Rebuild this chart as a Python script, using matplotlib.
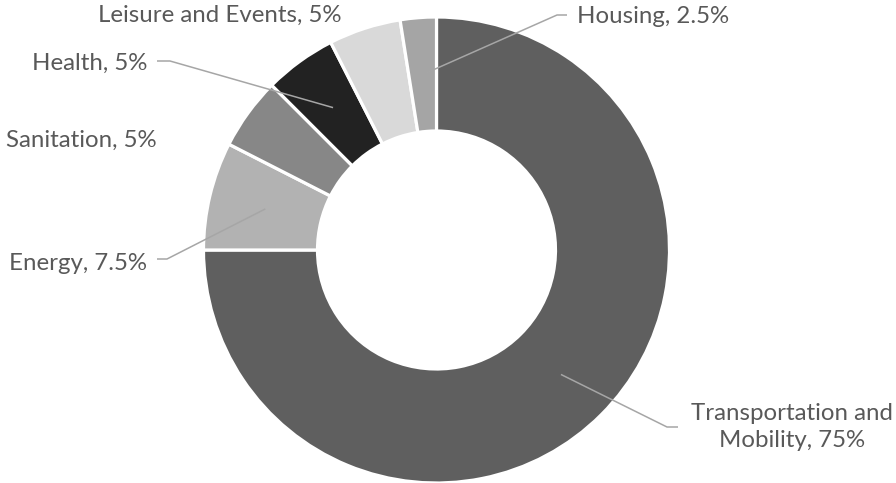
import numpy as np
import matplotlib
matplotlib.use("Agg")
import matplotlib.pyplot as plt

categories = ["Transportation and Mobility", "Energy", "Sanitation", "Health",
              "Leisure and Events", "Housing"]
values = [75, 7.5, 5, 5, 5, 2.5]
pct_labels = ["75%", "7.5%", "5%", "5%", "5%", "2.5%"]
colors = ["#5f5f5f", "#b2b2b2", "#878787", "#222222", "#d9d9d9", "#a5a5a5"]

W, H = 896, 483
fig = plt.figure(figsize=(W / 100, H / 100), dpi=100)
ax = fig.add_axes([0, 0, 1, 1])

cx, cy_img, R, ring = 436.5, 250, 233, 114
cy = H - cy_img

wedges, _ = ax.pie(values, colors=colors, startangle=90, counterclock=False,
                   radius=R, center=(cx, cy),
                   wedgeprops=dict(width=ring, edgecolor="white", linewidth=2.3))
ax.set_xlim(0, W)
ax.set_ylim(0, H)
ax.set_aspect("equal")
ax.axis("off")

def Y(y):
    return H - y

text_color = "#595959"
line_color = "#a6a6a6"
font = ["Lato", "DejaVu Sans"]

# fit font size so the Leisure label spans ~243 px
probe = ax.text(0, 0, "Leisure and Events, 5%", fontsize=14, family=font)
fig.canvas.draw()
w = probe.get_window_extent().width
probe.remove()
fs = 14 * 243 / w

# label layout: (x, y_baseline, ha, elbow points in image coords)
layout = {
    "Transportation and Mobility": (792, 427, "center", [(667, 427), (678, 427)]),
    "Energy": (147, 270, "right", [(167, 259), (157, 259)]),
    "Sanitation": (157, 147, "right", None),
    "Health": (147, 70, "right", [(170, 61), (157, 61)]),
    "Leisure and Events": (220, 22, "center", None),
    "Housing": (577, 23, "left", [(557, 15), (567, 15)]),
}

for wdg, cat, pct in zip(wedges, categories, pct_labels):
    x, y, ha, elbow = layout[cat]
    mid = np.deg2rad((wdg.theta1 + wdg.theta2) / 2)
    ra = R - ring / 2
    ax_, ay_ = cx + ra * np.cos(mid), cy + ra * np.sin(mid)
    if cat == "Transportation and Mobility":
        ax.text(x, Y(y), "Transportation and\nMobility, " + pct, ha="center",
                va="center", fontsize=fs, color=text_color, family=font,
                linespacing=1.38, multialignment="center")
    else:
        ax.text(x, Y(y), f"{cat}, {pct}", ha=ha, va="baseline", fontsize=fs,
                color=text_color, family=font)
    if elbow:
        xs = [ax_] + [p[0] for p in elbow]
        ys = [ay_] + [Y(p[1]) for p in elbow]
        ax.plot(xs, ys, color=line_color, lw=1.1, solid_capstyle="butt", zorder=3)

fig.savefig("out.png", dpi=100, facecolor="white")
